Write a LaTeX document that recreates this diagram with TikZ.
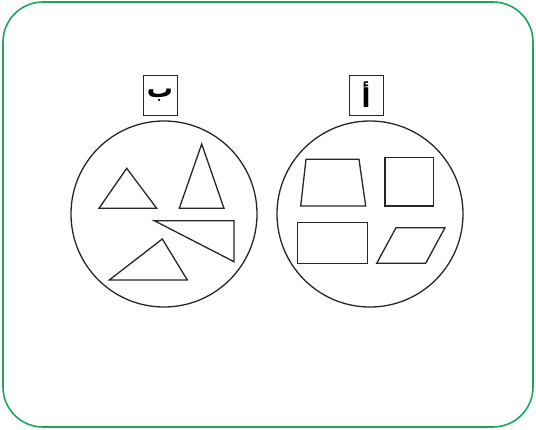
\documentclass[tikz,border=0pt]{standalone}
\usepackage{fontspec}
\newfontfamily\arabicfont[Script=Arabic]{DejaVu Sans}
\TeXXeTstate=1
\begin{document}
\begin{tikzpicture}[x=1pt,y=-1pt,
  frame/.style={draw={rgb,255:red,22;green,168;blue,90},line width=1.6pt,rounded corners=40pt},
  shp/.style={draw=black!85,line width=1.3pt,line join=miter},
  ring/.style={draw=black!85,line width=1.3pt,circle,minimum size=186pt,inner sep=0pt},
  lbl/.style={draw=black!85,line width=1pt,minimum width=34pt,minimum height=40pt,inner sep=0pt,font=\arabicfont\bfseries\fontsize{26}{28}\selectfont}]
\useasboundingbox (0,0) rectangle (536,429);
\draw[frame] (3,2) rectangle (533,427);
% circles
\node[ring] (cb) at (164,214) {};
\node[ring] (ca) at (370,214) {};
% labels
\node[lbl] (lb) at (160,95) {\beginR ب\endR};
\node[lbl] (la) at (366,95) {\beginR أ\endR};
% triangles in b
\draw[shp] (99,208.3) -- (156.7,208.3) -- (126.7,168.3) -- cycle;
\draw[shp] (179.3,208.3) -- (224,208.3) -- (201.7,144) -- cycle;
\draw[shp] (154.3,220.7) -- (234,220.7) -- (234,261.7) -- cycle;
\draw[shp] (109.3,280) -- (187.3,280) -- (162.3,239) -- cycle;
% quadrilaterals in a
\draw[shp] (306,159.3) -- (359,159.3) -- (365.7,206) -- (300.7,206) -- cycle;
\draw[shp] (385,157.7) rectangle (433.7,206);
\draw[shp] (297.3,222.3) rectangle (367.3,263.3);
\draw[shp] (376.7,263.3) -- (425.7,263.3) -- (445,227.7) -- (396,227.7) -- cycle;
\end{tikzpicture}
\end{document}
